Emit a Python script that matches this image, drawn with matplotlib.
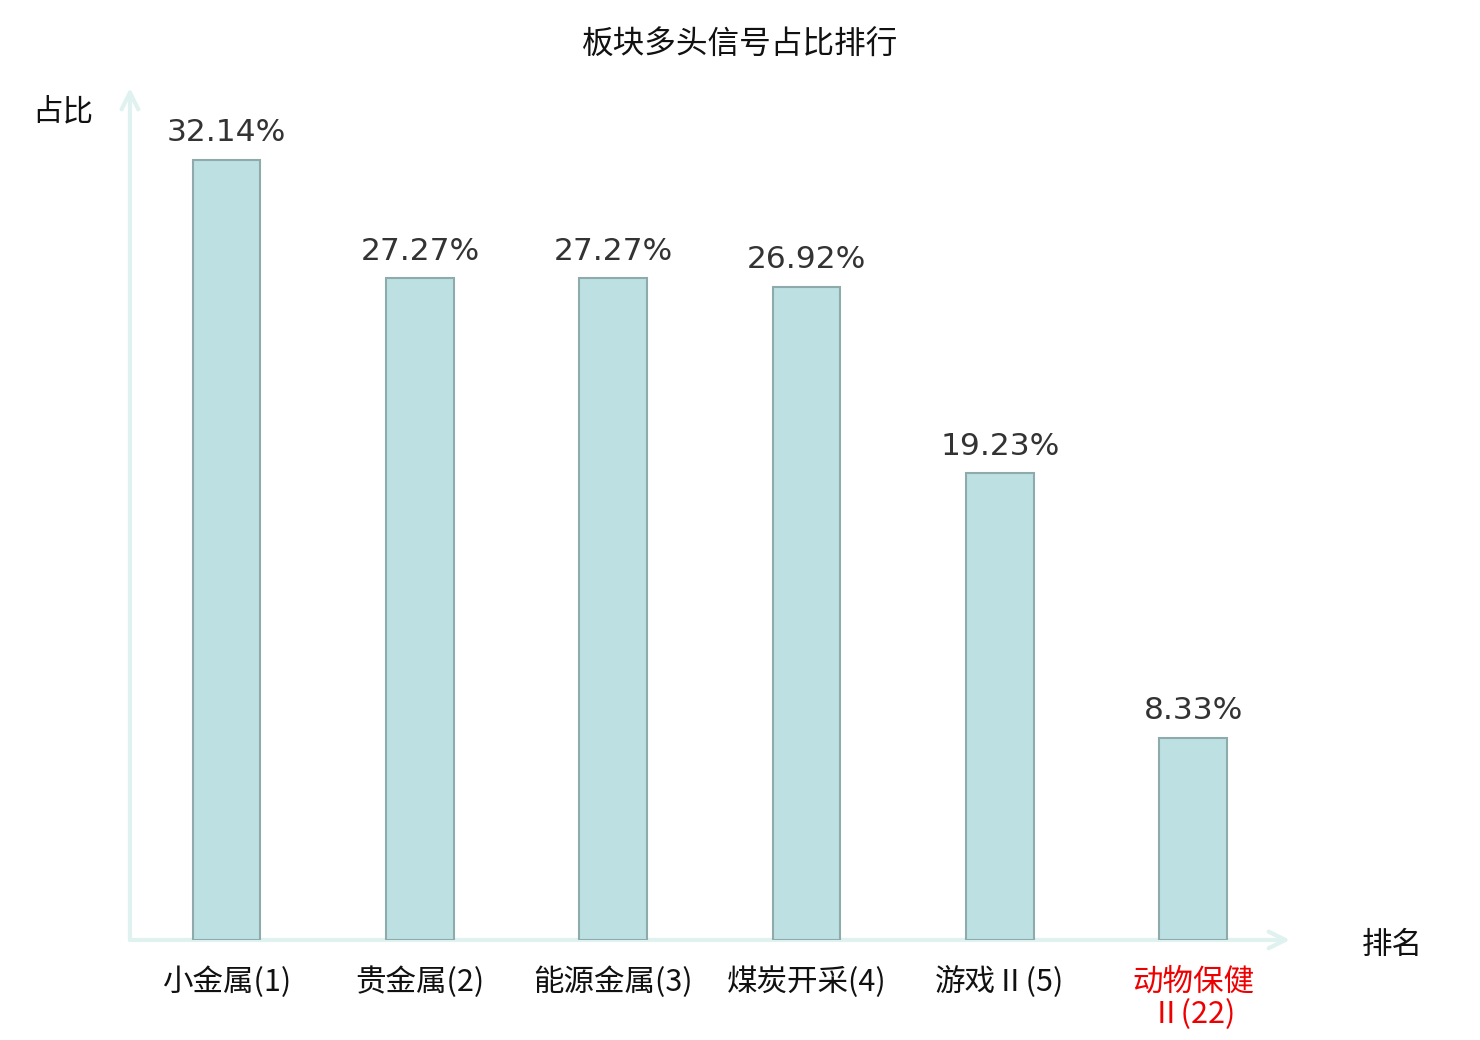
import matplotlib
matplotlib.use('Agg')
import matplotlib.pyplot as plt

plt.rcParams['font.family'] = ['Noto Sans CJK SC', 'DejaVu Sans']

sectors = ['小金属', '贵金属', '能源金属', '煤炭开采', '游戏Ⅱ', '动物保健Ⅱ']
ranks = [1, 2, 3, 4, 5, 22]
ratios = [32.14, 27.27, 27.27, 26.92, 19.23, 8.33]
value_labels = ['32.14%', '27.27%', '27.27%', '26.92%', '19.23%', '8.33%']
tick_labels = ['小金属(1)', '贵金属(2)', '能源金属(3)', '煤炭开采(4)', '游戏Ⅱ(5)', '动物保健\nⅡ(22)']
highlight = [False, False, False, False, False, True]

fig = plt.figure(figsize=(14.8, 10.4), dpi=100)
ax = fig.add_axes([0.0878, 0.0962, 0.7838, 0.8192])

x = list(range(len(sectors)))
ax.bar(x, ratios, width=0.35, color='#bde0e3', edgecolor='#8eaaab', linewidth=1.5, zorder=2)

for xi, v, lab in zip(x, ratios, value_labels):
    ax.annotate(lab, (xi, v), xytext=(0, 9), textcoords='offset points',
                ha='center', va='bottom', fontsize=22.5, color='#333333',
                family='DejaVu Sans')

ax.set_xlim(-0.5, 5.5)
ax.set_ylim(0, 35.1)
ax.set_xticks(x)
ax.set_xticklabels(tick_labels, fontsize=22, linespacing=1.05)
for t, h in zip(ax.get_xticklabels(), highlight):
    t.set_color('#ee0000' if h else '#111111')
    t.set_verticalalignment('top')
ax.tick_params(axis='x', length=0, pad=19)
ax.set_yticks([])
for s in ax.spines.values():
    s.set_visible(False)

axis_color = '#dff2ef'
ax.annotate('', xy=(1.0, 0), xytext=(0, 0), xycoords='axes fraction',
            arrowprops=dict(arrowstyle='->', color=axis_color, lw=3,
                            mutation_scale=30, shrinkA=0, shrinkB=0), zorder=1)
ax.annotate('', xy=(0, 1.0), xytext=(0, 0), xycoords='axes fraction',
            arrowprops=dict(arrowstyle='->', color=axis_color, lw=3,
                            mutation_scale=30, shrinkA=0, shrinkB=0), zorder=1)

fig.text(63 / 1480, 1 - 112 / 1040, '占比', ha='center', va='center', fontsize=22, color='#111111')
fig.text(1392 / 1480, 1 - 945 / 1040, '排名', ha='center', va='center', fontsize=22, color='#111111')
fig.text(740 / 1480, 1 - 45 / 1040, '板块多头信号占比排行', ha='center', va='center', fontsize=22.8, color='#111111')

fig.savefig('out.png', dpi=100)
